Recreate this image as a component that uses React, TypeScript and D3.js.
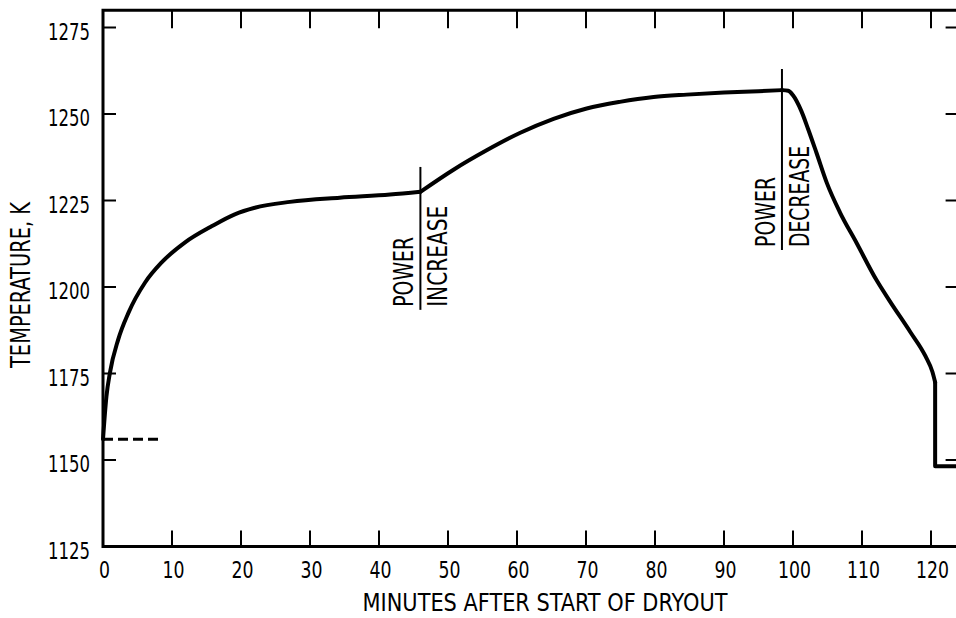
import * as d3 from "d3";
import { useEffect, useRef } from "react";

const W = 956;
const H = 618;

// temperature after dryout
const riseMinutes = [0, 0.5, 1, 2.2, 3.7, 6.1, 8.5, 11.9, 15.8, 19.1, 22, 27.1, 34.3, 41.6, 46];
const riseTemps = [1156, 1168.4, 1175.2, 1184.8, 1192.6, 1201.3, 1207.1, 1212.9, 1217.6, 1221, 1222.9, 1224.6, 1225.8, 1226.7, 1227.5];

const upMinutes = [46, 50.8, 55.6, 60.4, 65.3, 70.1, 74.9, 79.8, 84.6, 90, 95, 98.4];
const upTemps = [1227.5, 1233.9, 1239.5, 1244.5, 1248.6, 1251.6, 1253.5, 1254.9, 1255.6, 1256.2, 1256.6, 1256.9];

const downMinutes = [98.4, 99.3, 100, 101.2, 102.2, 103.4, 104.9, 106.8, 109.2, 112.1, 114, 117, 119.2, 120.2, 120.6];
const downTemps = [1256.9, 1256.7, 1255.4, 1250.9, 1245.6, 1238.8, 1230.1, 1221.6, 1212.8, 1202, 1196, 1187, 1180, 1175.5, 1172.5];

const quenchMinutes = [120.6, 120.6, 124];
const quenchTemps = [1172.5, 1148.2, 1148.2];

const xTicks = [0, 10, 20, 30, 40, 50, 60, 70, 80, 90, 100, 110, 120];
const yTicks = [1125, 1150, 1175, 1200, 1225, 1250, 1275];

const saturation = { from: 0, to: 8, temp: 1156 };

const events = [
  { minute: 46, low: 1193.4, high: 1234.7, first: "POWER", second: "INCREASE" },
  { minute: 98.4, low: 1210.7, high: 1263, first: "POWER", second: "DECREASE" },
];

const FONT = "'Liberation Sans Narrow', 'DejaVu Sans Condensed', 'Arial Narrow', sans-serif";

const App = () => {
  const ref = useRef(null);

  useEffect(() => {
    const svg = d3.select(ref.current);
    svg.selectAll("*").remove();

    const x = d3.scaleLinear().domain([0, 124]).range([103, 958.6]);
    const y = d3.scaleLinear().domain([1125, 1280]).range([546.5, 10.2]);
    const [x0, x1] = x.range();
    const [y0, y1] = y.range();

    // frame
    svg.append("path")
      .attr("d", `M${x1},${y1}H${x0}V${y0}H${x1}`)
      .attr("fill", "none")
      .attr("stroke", "#000")
      .attr("stroke-width", 3);

    const ticks = svg.append("g").attr("stroke", "#000").attr("stroke-width", 2);
    xTicks.forEach(t => {
      ticks.append("line").attr("x1", x(t)).attr("x2", x(t)).attr("y1", y0).attr("y2", y0 - 16);
      ticks.append("line").attr("x1", x(t)).attr("x2", x(t)).attr("y1", y1).attr("y2", y1 + 18);
    });
    yTicks.forEach(t => {
      ticks.append("line").attr("x1", x0).attr("x2", x0 + 13).attr("y1", y(t)).attr("y2", y(t));
      ticks.append("line").attr("x1", x1).attr("x2", x1 - 13).attr("y1", y(t)).attr("y2", y(t));
    });

    const label = svg.append("g").attr("font-family", FONT).attr("fill", "#000");
    xTicks.forEach(t => {
      label.append("text")
        .attr("x", x(t) + 1.5)
        .attr("y", 578)
        .attr("text-anchor", "middle")
        .attr("font-size", 23)
        .attr("textLength", String(t).length * 11)
        .attr("lengthAdjust", "spacingAndGlyphs")
        .text(t);
    });
    yTicks.forEach(t => {
      label.append("text")
        .attr("x", 90)
        .attr("y", y(t) + 12)
        .attr("text-anchor", "end")
        .attr("font-size", 23)
        .attr("textLength", 42)
        .attr("lengthAdjust", "spacingAndGlyphs")
        .text(t);
    });

    label.append("text")
      .attr("x", 545)
      .attr("y", 611)
      .attr("text-anchor", "middle")
      .attr("font-size", 25)
      .attr("textLength", 365)
      .attr("lengthAdjust", "spacingAndGlyphs")
      .text("MINUTES AFTER START OF DRYOUT");

    label.append("text")
      .attr("transform", "translate(30,285) rotate(-90)")
      .attr("text-anchor", "middle")
      .attr("font-size", 26)
      .attr("textLength", 166)
      .attr("lengthAdjust", "spacingAndGlyphs")
      .text("TEMPERATURE, K");

    // dashed saturation level
    svg.append("line")
      .attr("x1", x(saturation.from))
      .attr("x2", x(saturation.to))
      .attr("y1", y(saturation.temp))
      .attr("y2", y(saturation.temp))
      .attr("stroke", "#000")
      .attr("stroke-width", 3)
      .attr("stroke-dasharray", "10,5");

    // power change markers
    events.forEach(e => {
      const ex = x(e.minute);
      svg.append("line")
        .attr("x1", ex).attr("x2", ex)
        .attr("y1", y(e.high)).attr("y2", y(e.low))
        .attr("stroke", "#000")
        .attr("stroke-width", 2);
      const bottom = y(e.low) - 3;
      label.append("text")
        .attr("transform", `translate(${ex - 7},${bottom}) rotate(-90)`)
        .attr("font-size", 26)
        .attr("textLength", 70)
        .attr("lengthAdjust", "spacingAndGlyphs")
        .text(e.first);
      label.append("text")
        .attr("transform", `translate(${ex + 27},${bottom}) rotate(-90)`)
        .attr("font-size", 26)
        .attr("textLength", 101)
        .attr("lengthAdjust", "spacingAndGlyphs")
        .text(e.second);
    });

    // temperature trace
    const smooth = d3.line().x(d => x(d[0])).y(d => y(d[1])).curve(d3.curveMonotoneX);
    const straight = d3.line().x(d => x(d[0])).y(d => y(d[1]));
    const pairs = (ms, ts) => ms.map((m, i) => [m, ts[i]]);

    const trace = svg.append("g")
      .attr("fill", "none")
      .attr("stroke", "#000")
      .attr("stroke-width", 4)
      .attr("stroke-linejoin", "round")
      .attr("stroke-linecap", "round");
    trace.append("path").attr("d", smooth(pairs(riseMinutes, riseTemps)));
    trace.append("path").attr("d", smooth(pairs(upMinutes, upTemps)));
    trace.append("path").attr("d", smooth(pairs(downMinutes, downTemps)));
    trace.append("path").attr("d", straight(pairs(quenchMinutes, quenchTemps)));
  }, []);

  return (
    <svg
      ref={ref}
      width={W}
      height={H}
      style={{ position: "absolute", left: 0, top: 0, background: "#fff" }}
    />
  );
};

export default App;
